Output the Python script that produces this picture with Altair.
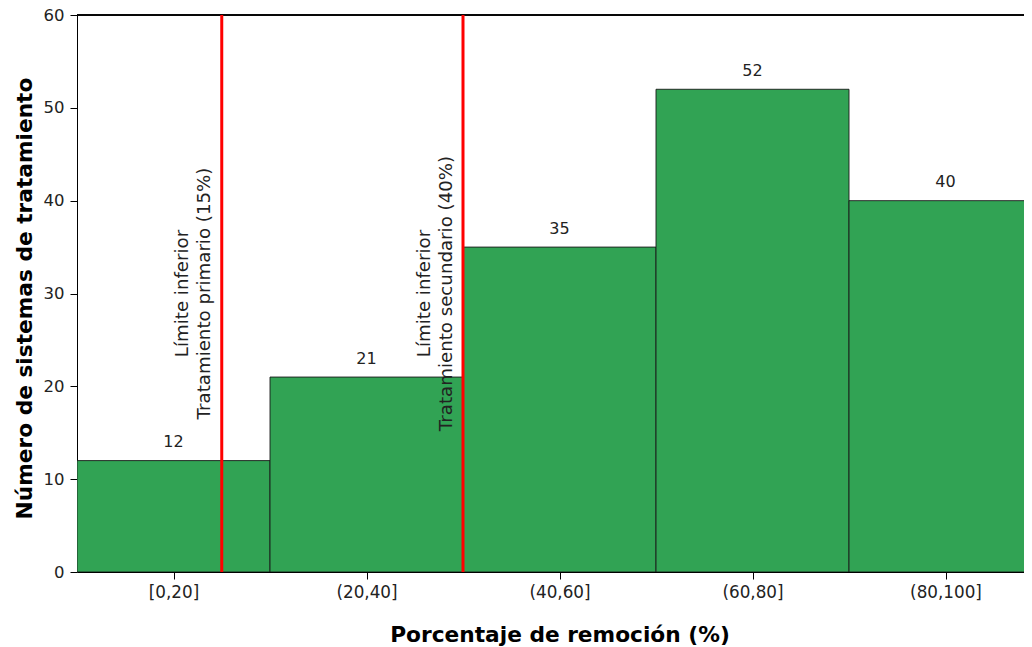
import altair as alt
import pandas as pd

# Data
bin_start = [0, 20, 40, 60, 80]
bin_end = [20, 40, 60, 80, 100]
counts = [12, 21, 35, 52, 40]
bin_labels = ["[0,20]", "(20,40]", "(40,60]", "(60,80]", "(80,100]"]
tick_pos = [10, 30, 50, 70, 90]

limit_x = [15, 40]
limit_y = [30, 30]
limit_text = [
    ["Límite inferior", "Tratamiento primario (15%)"],
    ["Límite inferior", "Tratamiento secundario (40%)"],
]

bars_df = pd.DataFrame({
    "start": bin_start,
    "end": bin_end,
    "mid": [(a + b) / 2 for a, b in zip(bin_start, bin_end)],
    "count": counts,
    "label": [str(c) for c in counts],
})
lim_df = pd.DataFrame({"x": limit_x, "y": limit_y, "text": limit_text})

FONT = "DejaVu Sans"

# The reference figure is cut at the window's right edge (bin width = 193 px)
PLOT_W = 947
X_MAX = PLOT_W / 193 * 20

label_expr = ""
for p, l in zip(tick_pos, bin_labels):
    label_expr += f"datum.value == {p} ? '{l}' : "
label_expr += "''"

x_scale = alt.Scale(domain=[0, X_MAX], nice=False, zero=False)
y_scale = alt.Scale(domain=[0, 60], nice=False)

x_axis = alt.Axis(
    values=tick_pos, labelExpr=label_expr, title="Porcentaje de remoción (%)",
    grid=False, tickSize=7, labelPadding=5, labelFontSize=16.8, labelFont=FONT,
    labelColor="#222222", tickColor="black", domainColor="black",
    titleFont=FONT, titleFontSize=21.7, titleFontWeight="bold", titleColor="black",
    titleX=482.5, titleY=69, titleBaseline="alphabetic", titleAnchor="middle",
    titleAlign="center",
)
y_axis = alt.Axis(
    values=[0, 10, 20, 30, 40, 50, 60], title="Número de sistemas de tratamiento",
    grid=False, tickSize=7, labelPadding=6, labelFontSize=16.5, labelFont=FONT,
    labelColor="#222222", tickColor="black", domainColor="black",
    titleFont=FONT, titleFontSize=21.7, titleFontWeight="bold", titleColor="black",
    titleX=-45.3, titleY=283, titleBaseline="alphabetic", titleAngle=270,
    titleAlign="center",
)

base = alt.Chart(bars_df)

bars = base.mark_bar(color="#31a354", stroke="#1a1a1a", strokeWidth=0.9, clip=True).encode(
    x=alt.X("start:Q", scale=x_scale, axis=x_axis),
    x2="end:Q",
    y=alt.Y("count:Q", scale=y_scale, axis=y_axis),
    y2=alt.datum(0),
)

bar_text = base.mark_text(
    font=FONT, fontSize=16, baseline="alphabetic", align="center", dy=-13.5,
    color="#222222", clip=True,
).encode(
    x=alt.X("mid:Q", scale=x_scale),
    y=alt.Y("count:Q", scale=y_scale),
    text="label:N",
)

top_border = base.mark_rule(color="black", strokeWidth=1).encode(
    y=alt.datum(60),
)

rules = alt.Chart(lim_df).mark_rule(color="#ff0000", strokeWidth=3).encode(
    x=alt.X("x:Q", scale=x_scale),
)

lim_text = alt.Chart(lim_df).mark_text(
    font=FONT, fontSize=18.2, angle=270, align="center", baseline="bottom",
    dy=-29.5, lineHeight=22, color="#222222",
).encode(
    x=alt.X("x:Q", scale=x_scale),
    y=alt.Y("y:Q", scale=y_scale),
    text="text",
)

chart = alt.layer(bars, bar_text, top_border, rules, lim_text).properties(
    width=PLOT_W, height=557,
    autosize=alt.AutoSizeParams(type="none"),
    padding={"left": 69, "top": 7, "right": 0, "bottom": 75},
).configure_view(stroke=None)

chart.save("out.html", embed_options={"renderer": "svg", "actions": False})
